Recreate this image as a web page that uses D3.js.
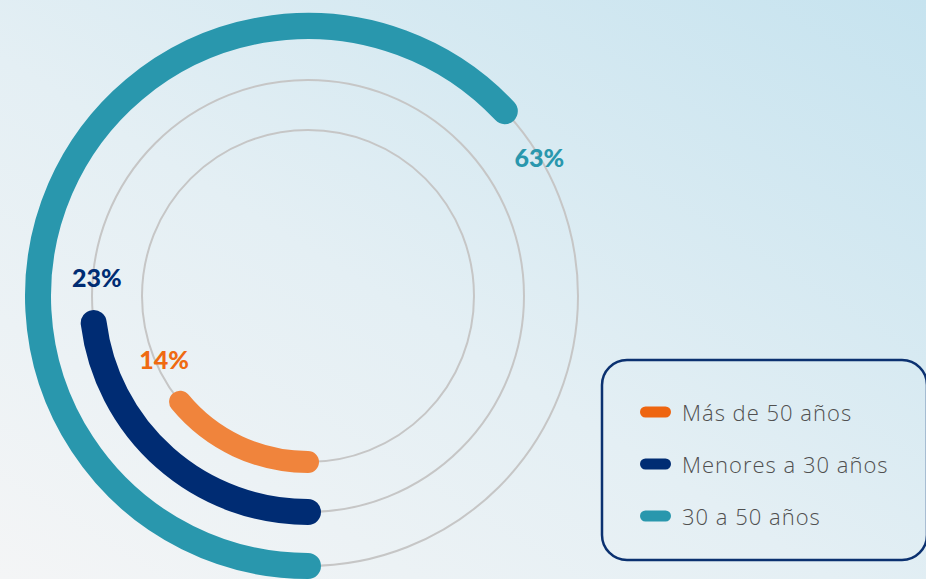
<!DOCTYPE html>
<html>
<head>
<meta charset="utf-8">
<script src="https://cdn.jsdelivr.net/npm/d3@7"></script>
<style>
  html, body { margin: 0; padding: 0; overflow: hidden; }
  svg { display: block; }
</style>
</head>
<body>
<div id="chart"></div>
<script>
// ---- data ----
const categories = ["Más de 50 años", "Menores a 30 años", "30 a 50 años"];
const values = [14, 23, 63];
const valueLabels = ["14%", "23%", "63%"];
const legendLabels = ["Más de 50 años", "Menores a 30 años", "30 a 50 años"];

// ---- styles / layout ----
const W = 926, H = 579;
const cx = 308, cy = 296;
const arcColors = ["#f0843c", "#002c73", "#2997ad"];
const labelColors = ["#ef6a12", "#002c73", "#2997ad"];
const swatchColors = ["#ee6510", "#002c73", "#2997ad"];
const arcWidths = [22, 26, 26];
const labelAngleOffsetDeg = [16, 12.3, 12.2];
const labelRadiusDelta = [-9, -4, 0];

const svg = d3.select("#chart").append("svg")
  .attr("width", W).attr("height", H);

const defs = svg.append("defs");
const grad = defs.append("linearGradient")
  .attr("id", "bg").attr("x1", "0").attr("y1", "1").attr("x2", "1").attr("y2", "0");
grad.append("stop").attr("offset", "0%").attr("stop-color", "#f4f5f6");
grad.append("stop").attr("offset", "45%").attr("stop-color", "#e4eff4");
grad.append("stop").attr("offset", "100%").attr("stop-color", "#c6e3ef");
svg.append("rect").attr("width", W).attr("height", H).attr("fill", "url(#bg)");

// scales
const angle = d3.scaleLinear().domain([0, 100]).range([0, 2 * Math.PI]);
const radius = d3.scalePoint().domain(categories).range([166, 270]);
const rOf = (c) => c === categories[1] ? 216 : radius(c);

const g = svg.append("g").attr("transform", `translate(${cx},${cy})`);

// track circles
g.selectAll("circle.track").data(categories).join("circle")
  .attr("class", "track")
  .attr("r", d => rOf(d))
  .attr("fill", "none")
  .attr("stroke", "#c6c6c6")
  .attr("stroke-width", 2);

// arcs (stroked, round caps) starting at 6 o'clock, clockwise
const arcData = categories.map((c, i) => ({ c, v: values[i], r: rOf(c), w: arcWidths[i], i }));
function arcPath(d) {
  const p = d3.path();
  const a0 = Math.PI, a1 = Math.PI + angle(d.v);
  p.arc(0, 0, d.r, a0 - Math.PI / 2, a1 - Math.PI / 2, false);
  return p.toString();
}

g.selectAll("path.bar").data(arcData).join("path")
  .attr("class", "bar")
  .attr("d", arcPath)
  .attr("fill", "none")
  .attr("stroke", d => arcColors[d.i])
  .attr("stroke-width", d => d.w)
  .attr("stroke-linecap", "round");

// value labels
g.selectAll("text.val").data(arcData).join("text")
  .attr("class", "val")
  .attr("x", d => {
    const a = Math.PI + angle(d.v) + labelAngleOffsetDeg[d.i] * Math.PI / 180;
    return (d.r + labelRadiusDelta[d.i]) * Math.sin(a);
  })
  .attr("y", d => {
    const a = Math.PI + angle(d.v) + labelAngleOffsetDeg[d.i] * Math.PI / 180;
    return -(d.r + labelRadiusDelta[d.i]) * Math.cos(a);
  })
  .attr("text-anchor", "middle")
  .attr("dominant-baseline", "central")
  .attr("font-family", "Lato, sans-serif")
  .attr("font-weight", 900)
  .attr("font-size", 25)
  .attr("fill", d => labelColors[d.i])
  .text(d => valueLabels[d.i]);

// legend
const legend = svg.append("g");
legend.append("rect")
  .attr("x", 602).attr("y", 360)
  .attr("width", 325).attr("height", 200)
  .attr("rx", 25).attr("ry", 25)
  .attr("fill", "none")
  .attr("stroke", "#0b3170")
  .attr("stroke-width", 2.5);

const rowY = d3.scalePoint().domain(legendLabels).range([412, 516]);
const rows = legend.selectAll("g.row").data(legendLabels).join("g")
  .attr("class", "row")
  .attr("transform", d => `translate(0,${rowY(d)})`);
rows.append("rect")
  .attr("x", 640).attr("y", -5.5)
  .attr("width", 31).attr("height", 11)
  .attr("rx", 5.5).attr("ry", 5.5)
  .attr("fill", (d, i) => swatchColors[i]);
rows.append("text")
  .attr("x", 682)
  .attr("y", 0)
  .attr("dominant-baseline", "central")
  .attr("font-family", "'Open Sans', sans-serif")
  .attr("font-weight", 300)
  .attr("font-size", 22)
  .attr("letter-spacing", 1)
  .attr("fill", "#505050")
  .text(d => d);
</script>
</body>
</html>
